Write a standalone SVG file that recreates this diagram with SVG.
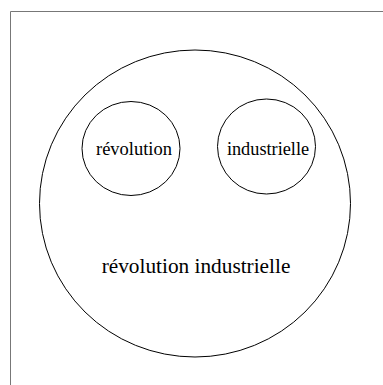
<svg xmlns="http://www.w3.org/2000/svg" width="383" height="385" viewBox="0 0 383 385">
<style>
.c{fill:none;stroke:#000;stroke-width:1}
.t{font-family:"Liberation Serif",serif;fill:#000;text-anchor:middle}
</style>
<rect width="383" height="385" fill="#fff"/>
<path d="M10.5,385 V11.5 H383" fill="none" stroke="#777" stroke-width="1"/>
<g id="outer">
<ellipse class="c" cx="195" cy="203.5" rx="155.5" ry="153.5"/>
<text class="t" x="196" y="273" font-size="21.3">révolution industrielle</text>
</g>
<g id="revolution">
<ellipse class="c" cx="131" cy="148.5" rx="49" ry="47"/>
<text class="t" x="134" y="155" font-size="18.5">révolution</text>
</g>
<g id="industrielle">
<ellipse class="c" cx="266.5" cy="146.5" rx="49" ry="47.5"/>
<text class="t" x="268" y="155" font-size="18.3">industrielle</text>
</g>
<g id="connectors"/>
</svg>
